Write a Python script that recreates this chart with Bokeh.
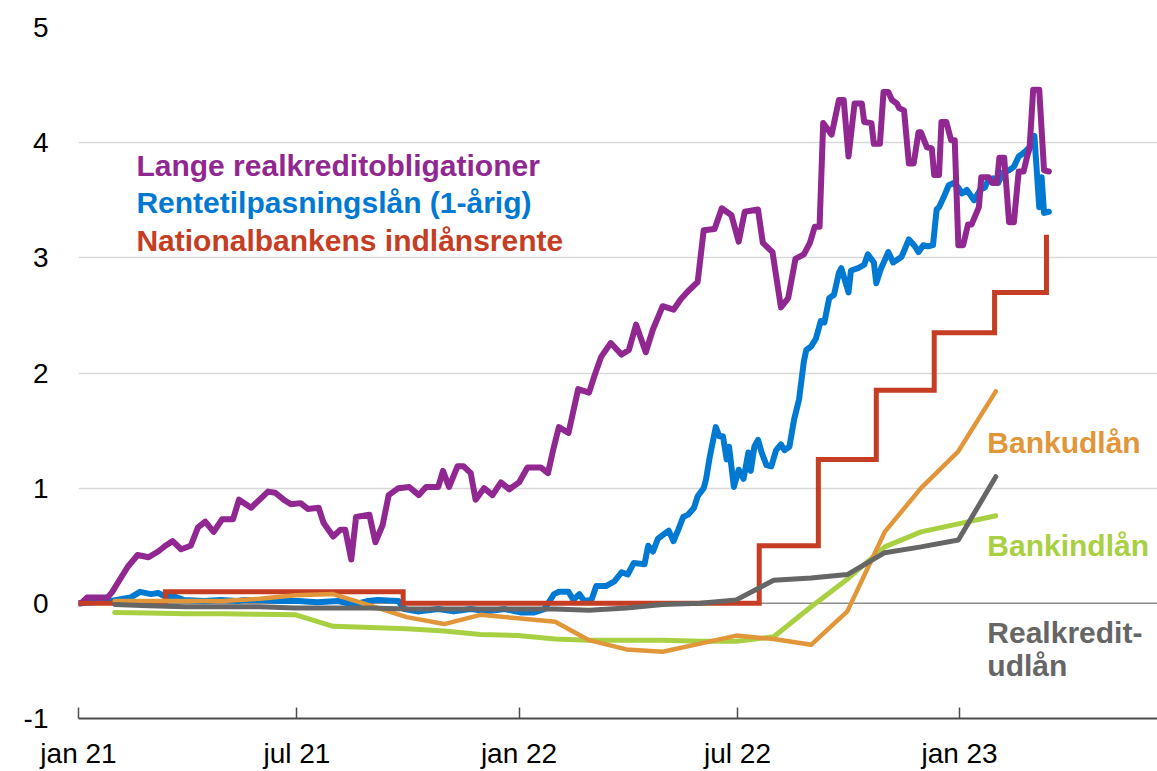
import pandas as pd
from bokeh.plotting import figure
from bokeh.models import FixedTicker, CustomJSTickFormatter, Span, Label, Range1d
from bokeh.embed import file_html
from bokeh.resources import INLINE

START = pd.Timestamp("2021-01-01")

# Lange realkreditobligationer (days since 2021-01-01, pct.-point change)
bond_days = [0, 2, 7, 24, 28, 35, 41, 49, 58, 66,
             72, 78, 85, 93, 99, 105, 112, 119, 128, 133,
             143, 149, 157, 163, 170, 176, 184, 190, 199, 203,
             211, 217, 221, 226, 230, 241, 246, 252, 257, 265,
             274, 282, 288, 298, 302, 307, 314, 319, 325, 329,
             336, 343, 350, 357, 365, 372, 383, 389, 393, 398,
             406, 414, 423, 427, 433, 441, 450, 456, 462, 470,
             476, 484, 493, 499, 505, 513, 518, 527, 533, 541,
             547, 552, 563, 567, 575, 582, 588, 594, 601, 606,
             610, 614, 617, 624, 630, 634, 638, 643, 649, 651,
             657, 659, 664, 667, 671, 674, 678, 680, 684, 688,
             692, 696, 698, 703, 707, 709, 713, 715, 719, 723,
             726, 729, 733, 737, 740, 746, 748, 754, 757, 761,
             763, 767, 771, 775, 779, 783, 786, 788, 791, 796,
             800, 804]
bond_vals = [0.0, 0.0, 0.05, 0.05, 0.1, 0.22, 0.32, 0.42, 0.40, 0.45,
             0.50, 0.54, 0.47, 0.50, 0.66, 0.71, 0.62, 0.73, 0.73, 0.90,
             0.83, 0.89, 0.97, 0.96, 0.90, 0.86, 0.87, 0.82, 0.83, 0.70,
             0.58, 0.64, 0.64, 0.38, 0.75, 0.77, 0.53, 0.68, 0.94, 1.00,
             1.01, 0.94, 1.01, 1.01, 1.15, 1.01, 1.19, 1.19, 1.13, 0.90,
             1.00, 0.94, 1.05, 0.99, 1.05, 1.18, 1.18, 1.13, 1.32, 1.53,
             1.48, 1.86, 1.83, 1.96, 2.14, 2.26, 2.16, 2.20, 2.42, 2.18,
             2.38, 2.58, 2.55, 2.64, 2.71, 2.79, 3.24, 3.25, 3.43, 3.37,
             3.14, 3.40, 3.42, 3.13, 3.05, 2.57, 2.65, 2.99, 3.03, 3.13,
             3.27, 3.27, 4.17, 4.07, 4.37, 4.37, 3.88, 4.34, 4.34, 4.18,
             4.17, 3.99, 3.99, 4.44, 4.44, 4.37, 4.34, 4.30, 4.28, 3.82,
             3.82, 4.09, 4.09, 3.96, 3.95, 3.72, 3.72, 4.18, 4.18, 4.02,
             4.02, 3.11, 3.11, 3.29, 3.29, 3.44, 3.70, 3.70, 3.65, 3.65,
             3.87, 3.87, 3.31, 3.31, 3.75, 3.75, 3.88, 3.95, 4.46, 4.46,
             3.76, 3.75]

# Rentetilpasningslån (1-årig)
arm_days = [0, 2, 27, 43, 51, 60, 66, 72, 79, 87,
            104, 118, 132, 137, 148, 165, 182, 198, 215, 228,
            240, 248, 265, 270, 281, 298, 311, 325, 339, 353,
            367, 377, 386, 394, 398, 406, 410, 415, 419, 425,
            429, 437, 444, 450, 455, 460, 469, 472, 476, 480,
            485, 489, 493, 497, 501, 505, 510, 513, 518, 520,
            523, 528, 531, 534, 537, 539, 543, 547, 551, 555,
            557, 560, 563, 566, 570, 574, 578, 582, 585, 589,
            593, 597, 601, 603, 607, 611, 615, 618, 622, 626,
            630, 632, 638, 640, 646, 651, 654, 659, 661, 665,
            671, 675, 682, 688, 693, 696, 700, 704, 708, 711,
            713, 717, 721, 725, 729, 732, 736, 738, 742, 747,
            751, 754, 758, 762, 766, 771, 775, 779, 783, 787,
            790, 792, 796, 798, 800, 804]
arm_vals = [0.0, 0.0, 0.02, 0.05, 0.10, 0.08, 0.09, 0.06, 0.06, 0.03,
            0.02, 0.03, 0.02, 0.03, 0.03, 0.02, 0.02, 0.01, 0.02, -0.01,
            0.02, 0.03, 0.02, -0.05, -0.07, -0.05, -0.07, -0.05, -0.07, -0.05,
            -0.08, -0.08, -0.05, 0.08, 0.10, 0.10, 0.03, 0.08, 0.02, 0.03,
            0.15, 0.15, 0.19, 0.27, 0.25, 0.35, 0.34, 0.50, 0.45, 0.56,
            0.60, 0.63, 0.54, 0.64, 0.75, 0.77, 0.83, 0.93, 1.00, 1.08,
            1.27, 1.53, 1.45, 1.45, 1.25, 1.36, 1.01, 1.16, 1.08, 1.31,
            1.15, 1.36, 1.42, 1.31, 1.20, 1.19, 1.33, 1.38, 1.33, 1.36,
            1.60, 1.77, 2.10, 2.20, 2.23, 2.30, 2.45, 2.44, 2.65, 2.68,
            2.87, 2.91, 2.70, 2.89, 2.91, 2.94, 3.03, 2.96, 2.78, 2.91,
            3.05, 2.96, 3.01, 3.16, 3.10, 3.05, 3.11, 3.10, 3.11, 3.42,
            3.44, 3.53, 3.63, 3.65, 3.61, 3.56, 3.59, 3.56, 3.50, 3.59,
            3.61, 3.68, 3.69, 3.65, 3.74, 3.76, 3.79, 3.88, 3.91, 3.95,
            3.99, 4.06, 3.44, 3.70, 3.39, 3.40]

# Nationalbankens indlånsrente (change dates)
cb_dates = ["2021-01-01", "2021-03-14", "2021-09-27", "2022-07-19", "2022-09-06",
            "2022-10-24", "2022-12-11", "2023-01-30", "2023-03-14"]
cb_vals = [0.0, 0.1, 0.0, 0.5, 1.25, 1.85, 2.35, 2.7, 3.2]

# Monthly series, jan 2021 - jan 2023 (month end)
n_months = 25
bank_lending = [0.02, 0.02, 0.02, 0.02, 0.04, 0.07, 0.08, -0.02, -0.12, -0.18,
                -0.10, -0.13, -0.16, -0.32, -0.40, -0.42, -0.35, -0.28, -0.31, -0.36,
                -0.07, 0.62, 1.00, 1.32, 1.84]
bank_deposits = [-0.08, -0.085, -0.09, -0.09, -0.095, -0.10, -0.20, -0.21, -0.22, -0.24,
                 -0.27, -0.28, -0.31, -0.32, -0.32, -0.32, -0.33, -0.33, -0.29, -0.03,
                 0.21, 0.49, 0.62, 0.69, 0.76]
mortgage_lending = [-0.01, -0.02, -0.03, -0.03, -0.03, -0.04, -0.04, -0.04, -0.05, -0.05,
                    -0.05, -0.05, -0.05, -0.06, -0.04, -0.01, 0.00, 0.03, 0.20, 0.22,
                    0.25, 0.44, 0.49, 0.55, 1.10]

x_tick_dates = ["2021-01-01", "2021-07-01", "2022-01-01", "2022-07-01", "2023-01-01"]
y_ticks = [-1, 0, 1, 2, 3, 4, 5]
y_tick_labels = ["-1", "0", "1", "2", "3", "4", "5"]

PURPLE = "#912790"
BLUE = "#0079D2"
RED = "#C53E23"
ORANGE = "#E1963A"
GREEN = "#A9D042"
GRAY = "#666666"
FONT = "Liberation Sans"


def ms(d):
    return pd.Timestamp(d).timestamp() * 1000.0


bond_x = START + pd.to_timedelta(bond_days, unit="D")
arm_x = START + pd.to_timedelta(arm_days, unit="D")
cb_x = pd.to_datetime(cb_dates)
month_x = pd.date_range("2021-02-01", periods=n_months, freq="MS") - pd.Timedelta(days=1)

p = figure(width=1157, height=771, x_axis_type="datetime",
           x_range=Range1d(ms("2021-01-01"), ms("2023-06-14")),
           y_range=Range1d(-1, 5),
           output_backend="svg", toolbar_location=None,
           min_border_left=78, min_border_right=0, min_border_top=27, min_border_bottom=52)
p.outline_line_color = None
p.background_fill_color = "white"
p.border_fill_color = "white"

# grid
p.xgrid.visible = False
p.ygrid.ticker = FixedTicker(ticks=[1, 2, 3, 4, 5])
p.ygrid.grid_line_color = "#D9D9D9"
p.ygrid.grid_line_width = 1.5
zero = Span(location=0, dimension="width", line_color="#8C8C8C", line_width=1.5, level="underlay")
p.add_layout(zero)

# y axis
p.yaxis.ticker = FixedTicker(ticks=y_ticks)
p.yaxis.major_label_overrides = {t: s for t, s in zip(y_ticks, y_tick_labels)}
p.yaxis.axis_line_color = None
p.yaxis.major_tick_line_color = None
p.yaxis.minor_tick_line_color = None
p.yaxis.major_label_text_font = FONT
p.yaxis.major_label_text_font_size = "28px"
p.yaxis.major_label_text_color = "black"
p.yaxis.major_label_standoff = 24

# x axis
p.xaxis.ticker = FixedTicker(ticks=[ms(d) for d in x_tick_dates])
p.xaxis.formatter = CustomJSTickFormatter(code="""
const d = new Date(tick);
const m = d.getUTCMonth();
const y = String(d.getUTCFullYear() % 100).padStart(2, '0');
return (m == 0 ? 'jan ' : 'jul ') + y;
""")
p.xaxis.axis_line_color = "#4D4D4D"
p.xaxis.axis_line_width = 2
p.xaxis.major_tick_line_color = "#4D4D4D"
p.xaxis.major_tick_line_width = 1.5
p.xaxis.major_tick_in = 11
p.xaxis.major_tick_out = 0
p.xaxis.minor_tick_line_color = None
p.xaxis.major_label_text_font = FONT
p.xaxis.major_label_text_font_size = "28px"
p.xaxis.major_label_text_color = "black"
p.xaxis.major_label_standoff = 19

common = dict(line_cap="round", line_join="round")
p.line(arm_x, arm_vals, line_color=BLUE, line_width=6, **common)
p.line(bond_x, bond_vals, line_color=PURPLE, line_width=6, **common)
p.step(cb_x, cb_vals, mode="after", line_color=RED, line_width=5, line_join="miter")
p.line(month_x, bank_deposits, line_color=GREEN, line_width=5, **common)
p.line(month_x, bank_lending, line_color=ORANGE, line_width=4.5, **common)
p.line(month_x, mortgage_lending, line_color=GRAY, line_width=5, **common)


def add_label(date, y, text, color):
    p.add_layout(Label(x=ms(date), y=y, text=text, text_color=color,
                       text_font=FONT, text_font_size="30px", text_font_style="bold",
                       text_align="left", text_baseline="alphabetic"))


add_label("2021-02-18", 3.80, "Lange realkreditobligationer", PURPLE)
add_label("2021-02-18", 3.48, "Rentetilpasningslån (1-årig)", BLUE)
add_label("2021-02-18", 3.15, "Nationalbankens indlånsrente", RED)
add_label("2023-01-24", 1.40, "Bankudlån", ORANGE)
add_label("2023-01-24", 0.50, "Bankindlån", GREEN)
add_label("2023-01-24", -0.25, "Realkredit-", GRAY)
add_label("2023-01-24", -0.54, "udlån", GRAY)

open("out.html", "w").write(file_html(p, INLINE))
